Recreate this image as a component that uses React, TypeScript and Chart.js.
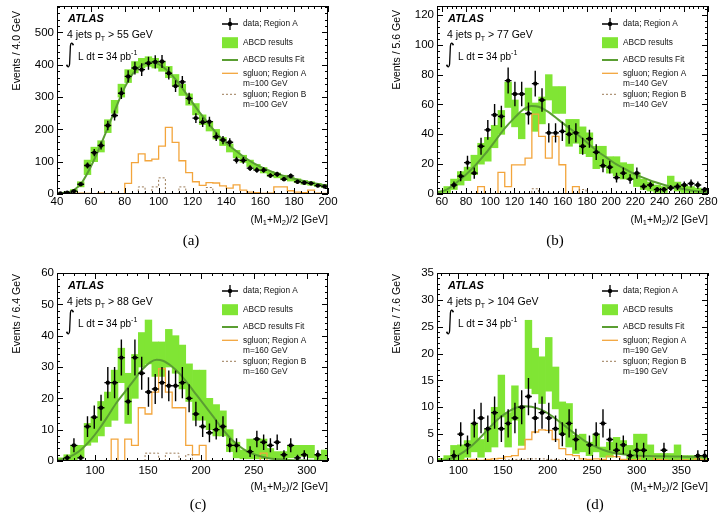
import React, { useEffect, useRef } from "react";
import { Chart, registerables } from "chart.js";

Chart.register(...registerables);

const SANS = '"Liberation Sans", Arial, Helvetica, sans-serif';
const SERIF = '"Liberation Serif", "DejaVu Serif", serif';
const GREEN = "#80e534";
const FIT = "#5a9e32";
const ORANGE = "#f3a53c";
const BROWN = "#9b7b57";

// ---------- (a) 4 jets pT > 55 GeV, sgluon m = 100 GeV, 4.0 GeV bins ----------
const aData = [2, 4, 9, 30, 88, 128, 150, 212, 243, 312, 364, 390, 385, 405, 409, 410, 374, 334, 347, 296, 235, 222, 224, 177, 167, 160, 105, 104, 80, 74, 74, 57, 61, 46, 56, 38, 35, 33, 26, 23];
const aBandLo = [0, 2, 6, 22, 60, 100, 130, 190, 250, 300, 345, 375, 390, 395, 390, 380, 360, 335, 305, 275, 245, 215, 195, 170, 150, 130, 112, 98, 85, 75, 65, 55, 50, 44, 40, 35, 30, 27, 23, 20];
const aBandHi = [3, 7, 14, 38, 105, 145, 165, 230, 290, 340, 385, 410, 420, 425, 420, 410, 395, 370, 340, 310, 280, 245, 225, 200, 175, 155, 135, 120, 105, 92, 82, 70, 65, 58, 52, 47, 42, 38, 33, 30];
const aFitX = [40, 45, 50, 55, 60, 65, 70, 75, 80, 85, 90, 95, 100, 105, 110, 115, 120, 125, 130, 135, 140, 145, 150, 155, 160, 165, 170, 175, 180, 185, 190, 195, 200];
const aFitY = [1, 4, 12, 38, 85, 142, 205, 270, 330, 374, 399, 408, 402, 383, 355, 320, 283, 247, 214, 184, 158, 136, 116, 99, 85, 73, 63, 54, 47, 41, 35, 30, 26];
const aSigA = [0, 1, 2, 3, 2, 1, 3, 1, 2, 1, 33, 97, 124, 103, 108, 148, 206, 160, 103, 66, 38, 27, 35, 34, 25, 18, 28, 12, 6, 4, 2, 3, 22, 22, 10, 6, 4, 12, 3, 2];
const aSigB = [0, 0, 0, 0, 0, 0, 0, 0, 0, 0, 0, 0, 22, 0, 22, 50, 0, 0, 22, 0, 0, 0, 20, 0, 0, 0, 0, 0, 0, 0, 0, 0, 0, 0, 0, 0, 0, 0, 0, 0];
const aXTicks = [40, 60, 80, 100, 120, 140, 160, 180, 200];
const aYTicks = [0, 100, 200, 300, 400, 500];

// ---------- (b) 4 jets pT > 77 GeV, sgluon m = 140 GeV, 5.6 GeV bins ----------
const bData = [null, null, 6, 12, 21, 14, 32, 43, 53, 52, 76, 67, 67, 54, 74, 63, 41, 41, 42, 40, 41, 32, 37, 28, 19, 18, 11, 14, 10, 14, 5, 6, 3, 3, 4, 5, 6, 7, 6, 3];
const bBandLo = [0, 1, 3, 6, 9, 13, 20, 22, 31, 40, 58, 45, 37, 56, 42, 47, 63, 54, 54, 32, 34, 27, 25, 17, 18, 14, 12, 10, 10, 5, 3, 2, 1, 1, 4, 2, 1, 1, 0, 0];
const bBandHi = [2, 5, 10, 15, 18, 26, 34, 38, 46, 56, 75, 63, 54, 71, 61, 65, 80, 72, 72, 50, 50, 45, 41, 32, 32, 25, 25, 21, 20, 14, 10, 8, 6, 5, 12, 8, 6, 5, 4, 3];
const bFitX = [56, 64, 72, 80, 88, 96, 104, 112, 120, 128, 134, 140, 148, 156, 164, 172, 180, 188, 196, 204, 212, 220, 228, 236, 244, 252, 260, 268, 280];
const bFitY = [1, 3, 7.5, 13, 19.5, 27, 35.5, 44, 51, 57, 59, 58.5, 55, 50, 45, 40, 34.5, 29, 24.5, 20, 16.5, 13, 10.5, 8, 6, 4.5, 3.2, 2.2, 1.2];
const bSigA = [0, 0, 0, 0, 0, 0, 5, 0, 0, 14.5, 5, 19.5, 19.5, 24, 53.5, 38.6, 24, 38.6, 19.6, 0, 5, 0, 0, 0, 0, 0, 0, 0, 0, 0, 0, 0, 0, 0, 0, 0, 0, 0, 0, 0];
const bSigB = [0, 0, 0, 0, 0, 0, 0, 0, 0, 0, 0, 0, 0, 0, 3.5, 0, 0, 0, 0, 0, 0, 3, 0, 0, 0, 0, 0, 0, 0, 0, 0, 0, 0, 0, 0, 0, 0, 0, 0, 0];
const bXTicks = [60, 80, 100, 120, 140, 160, 180, 200, 220, 240, 260, 280];
const bYTicks = [0, 20, 40, 60, 80, 100, 120];

// ---------- (c) 4 jets pT > 88 GeV, sgluon m = 160 GeV, 6.4 GeV bins ----------
const cData = [null, 1, 5, 1, 11, 14, 17, 25, 25, 33, 19, 33, 28, 22, 23, 25, 24, 24, 25, 20, 15, 11, 9, 10, 11, 5, 5, null, 3, 7, 6, 5, 6, 2, 5, 1, 2, null, 2, null];
const cBandLo = [0, 0, 0.2, 1, 5, 6, 8, 11, 13, 25, 12, 20, 30, 31, 27, 27, 30, 28, 23, 19, 13, 13, 10, 8, 8, 3, 1, 0.7, 0.7, 0.7, 0.7, 1, 0, 0, 1, 1.5, 1.5, 1, 0, 0.5];
const cBandHi = [1, 2, 5, 5, 12, 14, 19, 22, 29, 36, 28, 34, 41, 45, 38, 38, 42, 40, 37, 31, 29, 29, 20, 18, 16, 10, 6, 3.5, 7, 7, 7, 4, 3, 3, 5, 5, 5, 5, 2, 3.5];
const cFitX = [64, 72, 80, 88, 96, 104, 112, 120, 128, 136, 144, 152, 158, 164, 172, 180, 188, 196, 204, 212, 220, 228, 236, 244, 252, 264, 280, 300, 320];
const cFitY = [0.3, 0.8, 2, 4, 6.8, 10.3, 14.3, 18.5, 22, 25.5, 29, 31.5, 32.3, 32, 30.3, 27.8, 24.5, 21, 17.5, 14, 10.3, 7.2, 4.8, 3, 1.9, 0.9, 0.4, 0.15, 0.05];
const cSigA = [0, 0, 0, 0, 0, 0, 0, 0, 7, 0, 7, 5, 17, 15, 22, 29.5, 22, 17, 17, 5, 2, 5, 0, 0, 0, 0, 0, 0, 0, 0, 2.5, 0, 0, 0, 0, 0, 0, 0, 0, 0];
const cSigB = [0, 0, 0, 0, 0, 0, 0, 0, 0, 0, 0, 0, 0, 2.5, 2.5, 0, 2.5, 2.5, 0, 2, 0, 0, 0, 0, 0, 0, 0, 0, 0, 0, 0, 0, 0, 0, 0, 0, 0, 0, 0, 0];
const cXTicks = [100, 150, 200, 250, 300];
const cYTicks = [0, 10, 20, 30, 40, 50, 60];

// ---------- (d) 4 jets pT > 104 GeV, sgluon m = 190 GeV, 7.6 GeV bins ----------
const dData = [null, null, 1, 5, 3, 7, 8, 6, 9, 6, 7, 8, 10, 12, 8, 9, 8, 6, 5, 7, 4, null, 3, 5, 7, 4, 2, 3, 1, 2, 2, null, null, 2, null, null, null, null, 1, 1];
const dBandLo = [0, 0, 0.1, 0, 0.7, 1.7, 0.7, 1.7, 2.6, 8.2, 2.6, 7.6, 2.9, 13.5, 12.5, 10.7, 13, 9.7, 5, 2.6, 1.4, 1.7, 1, 1.7, 0.7, 0.7, 1.3, 1.3, 0, 0, 0, 0, 0, 0, 0, 0, 0, 0, 0, 0];
const dBandHi = [0.5, 1, 2.9, 3, 3.8, 7, 4, 6, 10, 16, 9, 14, 10, 26.2, 21, 19.4, 23, 17.5, 11, 10.7, 4.8, 5, 3.5, 5, 2.6, 3.5, 4.4, 3.8, 2.9, 5, 5, 3, 1.4, 1.4, 1.4, 3, 1, 1, 1, 1];
const dFitX = [76, 86, 96, 106, 116, 126, 136, 146, 156, 166, 174, 182, 192, 202, 212, 222, 232, 242, 252, 262, 272, 282, 292, 302, 320, 340, 360, 380];
const dFitY = [0, 0.2, 0.75, 1.7, 3, 4.6, 6.4, 8, 9.2, 10, 10.2, 10.1, 9.6, 8.7, 7.5, 6.2, 4.9, 3.7, 2.8, 2.1, 1.6, 1.3, 1.1, 1, 0.9, 0.85, 0.8, 0.8];
const dSigA = [0, 0, 0, 0, 0.2, 0.3, 0.1, 0.3, 0.4, 0.5, 0.8, 1.0, 2.2, 4.0, 5.4, 5.8, 5.7, 4.0, 2.3, 1.2, 1.0, 0.4, 0.3, 0.4, 0.3, 0.9, 0.8, 0.3, 0.2, 0.2, 0.9, 0.9, 0.3, 0.2, 0.1, 0.1, 0.2, 0.1, 0.4, 0.2];
const dSigB = [0, 0, 0, 0, 0, 0, 0, 0, 0, 0, 0.2, 0.3, 0.3, 0.4, 0.4, 0.4, 0.3, 0.3, 0.2, 0.2, 0.1, 0, 0, 0, 0, 0, 0, 0, 0, 0, 0, 0, 0, 0, 0, 0, 0, 0, 0, 0];
const dXTicks = [100, 150, 200, 250, 300, 350];
const dYTicks = [0, 5, 10, 15, 20, 25, 30, 35];

type Pad = { left: number; top: number; right: number; bottom: number };
type PanelSpec = {
  left: number; top: number; width: number; height: number; pad: Pad;
  xMin: number; binWidth: number; yMax: number;
  data: (number | null)[]; bandLo: number[]; bandHi: number[];
  fitX: number[]; fitY: number[]; sigA: number[]; sigB: number[];
  xTicks: number[]; yTicks: number[]; xMinor: number; yMinor: number;
  yTitle: string; ptCut: number; mass: number;
  caption: string; captionX: number; captionY: number;
  xLabelOffset: number; yTitleOffset: number;
};

const PANELS: PanelSpec[] = [
  {
    left: 0, top: 0, width: 360, height: 260, pad: { left: 57, top: 6, right: 32, bottom: 66 },
    xMin: 40, binWidth: 4, yMax: 582,
    data: aData, bandLo: aBandLo, bandHi: aBandHi, fitX: aFitX, fitY: aFitY, sigA: aSigA, sigB: aSigB,
    xTicks: aXTicks, yTicks: aYTicks, xMinor: 4, yMinor: 20,
    yTitle: "Events / 4.0 GeV", ptCut: 55, mass: 100,
    caption: "(a)", captionX: 191, captionY: 241, xLabelOffset: 8, yTitleOffset: 5,
  },
  {
    left: 360, top: 0, width: 359, height: 260, pad: { left: 77, top: 6, right: 11, bottom: 66 },
    xMin: 56, binWidth: 5.6, yMax: 126,
    data: bData, bandLo: bBandLo, bandHi: bBandHi, fitX: bFitX, fitY: bFitY, sigA: bSigA, sigB: bSigB,
    xTicks: bXTicks, yTicks: bYTicks, xMinor: 4, yMinor: 4,
    yTitle: "Events / 5.6 GeV", ptCut: 77, mass: 140,
    caption: "(b)", captionX: 555, captionY: 241, xLabelOffset: 8, yTitleOffset: 4,
  },
  {
    left: 0, top: 260, width: 360, height: 261, pad: { left: 57, top: 13, right: 32, bottom: 60 },
    xMin: 64, binWidth: 6.4, yMax: 60,
    data: cData, bandLo: cBandLo, bandHi: cBandHi, fitX: cFitX, fitY: cFitY, sigA: cSigA, sigB: cSigB,
    xTicks: cXTicks, yTicks: cYTicks, xMinor: 10, yMinor: 2,
    yTitle: "Events / 6.4 GeV", ptCut: 88, mass: 160,
    caption: "(c)", captionX: 198, captionY: 505, xLabelOffset: 9.5, yTitleOffset: 1,
  },
  {
    left: 360, top: 260, width: 359, height: 261, pad: { left: 77, top: 13, right: 11, bottom: 60 },
    xMin: 76, binWidth: 7.6, yMax: 35,
    data: dData, bandLo: dBandLo, bandHi: dBandHi, fitX: dFitX, fitY: dFitY, sigA: dSigA, sigB: dSigB,
    xTicks: dXTicks, yTicks: dYTicks, xMinor: 10, yMinor: 1,
    yTitle: "Events / 7.6 GeV", ptCut: 104, mass: 190,
    caption: "(d)", captionX: 595, captionY: 505, xLabelOffset: 9.5, yTitleOffset: 1,
  },
];

// Draws text runs with sub/superscripts, starting at x; returns the end x.
function drawRuns(ctx: CanvasRenderingContext2D, runs: [string, number, number][], x: number, y: number, measureOnly = false) {
  let cx = x;
  for (const [text, size, dy] of runs) {
    ctx.font = `${size}px ${SANS}`;
    if (!measureOnly) ctx.fillText(text, cx, y + dy);
    cx += ctx.measureText(text).width;
  }
  return cx;
}

function decorations(spec: PanelSpec) {
  return {
    id: "panelDecor",
    afterDraw(chart: any) {
      const ctx: CanvasRenderingContext2D = chart.ctx;
      const xs = chart.scales.x;
      const ys = chart.scales.y;
      const { left, right, top, bottom } = chart.chartArea;
      const xMax = spec.xMin + spec.data.length * spec.binWidth;
      ctx.save();

      // statistical error bars on the data points
      ctx.save();
      ctx.beginPath();
      ctx.rect(left, top, right - left, bottom - top);
      ctx.clip();
      ctx.strokeStyle = "#000";
      ctx.lineWidth = 1.4;
      spec.data.forEach((v, i) => {
        if (v == null || v <= 0) return;
        const cx = spec.xMin + (i + 0.5) * spec.binWidth;
        const err = Math.sqrt(v);
        const px = xs.getPixelForValue(cx);
        const py = ys.getPixelForValue(v);
        ctx.beginPath();
        ctx.moveTo(px, ys.getPixelForValue(v + err));
        ctx.lineTo(px, ys.getPixelForValue(Math.max(v - err, 0)));
        ctx.moveTo(xs.getPixelForValue(cx - spec.binWidth / 2), py);
        ctx.lineTo(xs.getPixelForValue(cx + spec.binWidth / 2), py);
        ctx.stroke();
      });
      ctx.restore();

      // frame
      ctx.strokeStyle = "#000";
      ctx.lineWidth = 1;
      ctx.strokeRect(left + 0.5, top + 0.5, right - left - 1, bottom - top - 1);

      // ticks on all four sides
      ctx.beginPath();
      for (let v = Math.ceil(spec.xMin / spec.xMinor - 1e-9) * spec.xMinor; v <= xMax + 1e-9; v += spec.xMinor) {
        const major = spec.xTicks.some((t) => Math.abs(t - v) < 1e-6);
        const len = major ? 6 : 3;
        const px = Math.round(xs.getPixelForValue(v)) + 0.5;
        ctx.moveTo(px, bottom);
        ctx.lineTo(px, bottom - len);
        ctx.moveTo(px, top);
        ctx.lineTo(px, top + len);
      }
      for (let v = 0; v <= spec.yMax + 1e-9; v += spec.yMinor) {
        const major = spec.yTicks.some((t) => Math.abs(t - v) < 1e-6);
        const len = major ? 6 : 3;
        const py = Math.round(ys.getPixelForValue(v)) + 0.5;
        ctx.moveTo(left, py);
        ctx.lineTo(left + len, py);
        ctx.moveTo(right, py);
        ctx.lineTo(right - len, py);
      }
      ctx.stroke();

      // tick labels
      ctx.fillStyle = "#000";
      ctx.font = `11.5px ${SANS}`;
      ctx.textBaseline = "middle";
      ctx.textAlign = "center";
      spec.xTicks.forEach((t) => ctx.fillText(String(t), xs.getPixelForValue(t), bottom + spec.xLabelOffset));
      ctx.textAlign = "right";
      spec.yTicks.forEach((t) => ctx.fillText(String(t), left - 3, ys.getPixelForValue(t)));

      // y axis title
      ctx.save();
      ctx.translate(left - 40, top + spec.yTitleOffset);
      ctx.rotate(-Math.PI / 2);
      ctx.font = `10.5px ${SANS}`;
      ctx.textAlign = "right";
      ctx.fillText(spec.yTitle, 0, 0);
      ctx.restore();

      // x axis title, right aligned
      ctx.textAlign = "left";
      const xRuns: [string, number, number][] = [["(M", 10.5, 0], ["1", 7.5, 3], ["+M", 10.5, 0], ["2", 7.5, 3], [")/2 [GeV]", 10.5, 0]];
      const w = drawRuns(ctx, xRuns, 0, 0, true);
      drawRuns(ctx, xRuns, right - w, bottom + 26);

      // ATLAS label block
      ctx.font = `italic bold 11px ${SANS}`;
      ctx.fillText("ATLAS", left + 11, top + 13);
      drawRuns(ctx, [["4 jets p", 10.5, 0], ["T", 7, 4], [` > ${spec.ptCut} GeV`, 10.5, 0]], left + 10, top + 29);
      // integral sign
      const ix = left + 13;
      const iy0 = top + 37;
      const iy1 = top + 61;
      ctx.lineWidth = 1.3;
      ctx.beginPath();
      ctx.moveTo(ix + 3, iy0 + 1.5);
      ctx.bezierCurveTo(ix + 2.6, iy0 - 0.6, ix + 0.6, iy0 - 0.4, ix + 0.4, iy0 + 3);
      ctx.lineTo(ix - 0.4, iy1 - 3);
      ctx.bezierCurveTo(ix - 0.6, iy1 + 0.4, ix - 2.6, iy1 + 0.6, ix - 3, iy1 - 1.5);
      ctx.stroke();
      ctx.beginPath();
      ctx.arc(ix + 3, iy0 + 1.6, 0.9, 0, Math.PI * 2);
      ctx.arc(ix - 3, iy1 - 1.6, 0.9, 0, Math.PI * 2);
      ctx.fill();
      drawRuns(ctx, [["L dt = 34 pb", 10, 0], ["-1", 7, -4]], left + 21, top + 51);

      // legend
      const lx0 = right - 106;
      const lx1 = right - 90;
      const lxc = (lx0 + lx1) / 2;
      const tx = right - 85;
      const rows = [18, 36.7, 54, 67.3, 77.3, 88.3, 98.5].map((d) => top + d);
      ctx.strokeStyle = "#000";
      ctx.lineWidth = 1.3;
      ctx.beginPath();
      ctx.moveTo(lx0, rows[0]);
      ctx.lineTo(lx1, rows[0]);
      ctx.moveTo(lxc, rows[0] - 6);
      ctx.lineTo(lxc, rows[0] + 6);
      ctx.stroke();
      ctx.beginPath();
      ctx.arc(lxc, rows[0], 2.2, 0, Math.PI * 2);
      ctx.fill();
      ctx.fillStyle = GREEN;
      ctx.fillRect(lx0, rows[1] - 5.5, lx1 - lx0, 11);
      ctx.strokeStyle = FIT;
      ctx.lineWidth = 2;
      ctx.beginPath();
      ctx.moveTo(lx0, rows[2]);
      ctx.lineTo(lx1, rows[2]);
      ctx.stroke();
      ctx.strokeStyle = ORANGE;
      ctx.lineWidth = 1.3;
      ctx.beginPath();
      ctx.moveTo(lx0, rows[3]);
      ctx.lineTo(lx1, rows[3]);
      ctx.stroke();
      ctx.strokeStyle = BROWN;
      ctx.lineWidth = 1;
      ctx.setLineDash([2, 2]);
      ctx.beginPath();
      ctx.moveTo(lx0, rows[5]);
      ctx.lineTo(lx1, rows[5]);
      ctx.stroke();
      ctx.setLineDash([]);
      ctx.fillStyle = "#111";
      ctx.font = `8.3px ${SANS}`;
      const labels = ["data; Region A", "ABCD results", "ABCD results Fit", "sgluon; Region A", `m=${spec.mass} GeV`, "sgluon; Region B", `m=${spec.mass} GeV`];
      labels.forEach((t, i) => ctx.fillText(t, tx, rows[i]));

      // sub-figure caption
      ctx.fillStyle = "#000";
      ctx.font = `15px ${SERIF}`;
      ctx.textAlign = "center";
      ctx.fillText(spec.caption, spec.captionX - spec.left, spec.captionY - spec.top);
      ctx.restore();
    },
  };
}

function Panel({ spec }: { spec: PanelSpec }) {
  const ref = useRef<HTMLCanvasElement>(null);
  useEffect(() => {
    const canvas = ref.current;
    if (!canvas) return;
    const n = spec.data.length;
    const xMax = spec.xMin + n * spec.binWidth;
    const centers = spec.data.map((_, i) => spec.xMin + (i + 0.5) * spec.binWidth);
    const edges = [...centers.map((c) => c - spec.binWidth / 2), xMax];
    const stepData = (vals: number[]) => edges.map((x, i) => ({ x, y: vals[Math.min(i, vals.length - 1)] }));
    const chart = new Chart(canvas, {
      type: "scatter",
      data: {
        datasets: [
          {
            type: "bar",
            data: centers.map((x, i) => ({ x, y: [spec.bandLo[i], spec.bandHi[i]] })),
            backgroundColor: GREEN,
            borderWidth: 0,
            barPercentage: 1,
            categoryPercentage: 1,
            order: 5,
          } as any,
          {
            type: "line",
            data: stepData(spec.sigA),
            stepped: true,
            borderColor: ORANGE,
            borderWidth: 1.3,
            pointRadius: 0,
            fill: false,
            order: 4,
          },
          {
            type: "line",
            data: stepData(spec.sigB),
            stepped: true,
            borderColor: BROWN,
            borderWidth: 1,
            borderDash: [2, 2],
            pointRadius: 0,
            fill: false,
            order: 3,
          },
          {
            type: "line",
            data: spec.fitX.map((x, i) => ({ x, y: spec.fitY[i] })),
            borderColor: FIT,
            borderWidth: 2,
            pointRadius: 0,
            cubicInterpolationMode: "monotone",
            fill: false,
            order: 2,
          },
          {
            type: "scatter",
            data: centers
              .map((x, i) => ({ x, y: spec.data[i] }))
              .filter((p) => p.y != null && (p.y as number) > 0) as any,
            pointRadius: 2.2,
            backgroundColor: "#000",
            borderWidth: 0,
            order: 1,
          },
        ],
      },
      options: {
        responsive: false,
        animation: false,
        devicePixelRatio: 1,
        events: [],
        layout: { padding: spec.pad },
        plugins: { legend: { display: false }, tooltip: { enabled: false } },
        scales: {
          x: { type: "linear", min: spec.xMin, max: xMax, offset: false, display: false },
          y: { type: "linear", min: 0, max: spec.yMax, display: false },
        },
      },
      plugins: [decorations(spec)],
    });
    return () => chart.destroy();
  }, [spec]);
  return (
    <canvas
      ref={ref}
      width={spec.width}
      height={spec.height}
      style={{ position: "absolute", left: spec.left, top: spec.top, width: spec.width, height: spec.height, display: "block" }}
    />
  );
}

export default function App() {
  return (
    <div style={{ position: "absolute", left: 0, top: 0, width: 719, height: 521, background: "#fff", overflow: "hidden" }}>
      {PANELS.map((p) => (
        <Panel key={p.caption} spec={p} />
      ))}
    </div>
  );
}
